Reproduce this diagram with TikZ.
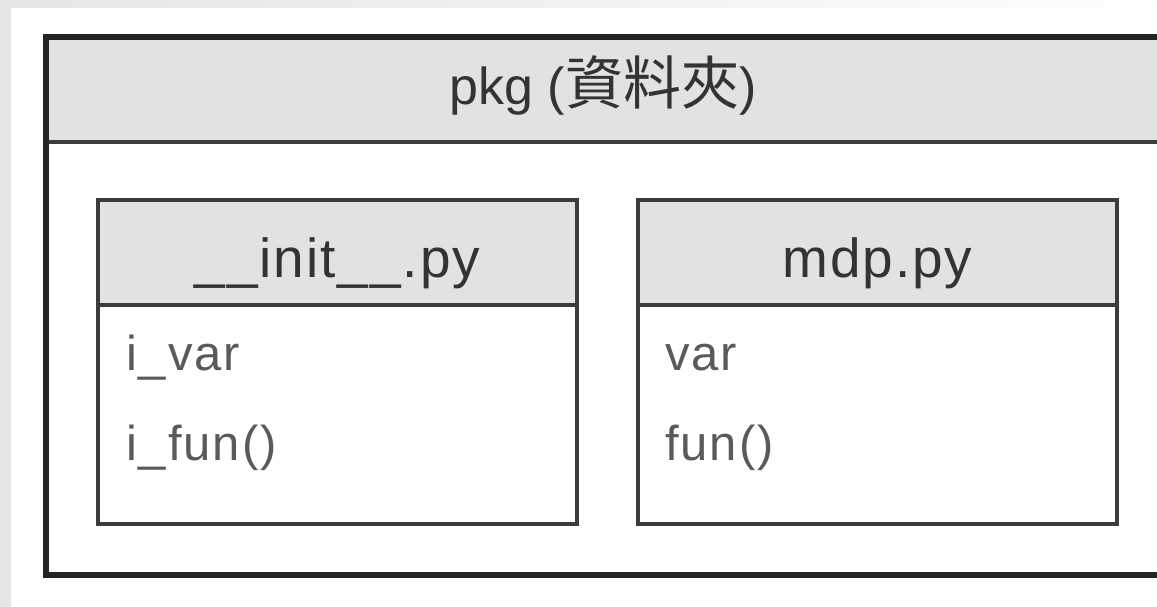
\documentclass[tikz,border=0pt]{standalone}
\usepackage{fontspec}
\setmainfont{Liberation Sans}
\newfontfamily\cjkfont{Noto Sans CJK TC}
\definecolor{bgray}{HTML}{E5E5E5}
\definecolor{hdr}{HTML}{E1E2E4}
\definecolor{edge}{HTML}{262324}
\definecolor{inedge}{HTML}{3C3C3C}
\definecolor{txt}{HTML}{333333}
\definecolor{bodytxt}{HTML}{5A5A5A}
\tikzset{
  titletext/.style={anchor=base, inner sep=0pt, text=txt, font=\fontsize{52}{62}\selectfont},
  headtext/.style={anchor=base, inner sep=0pt, text=txt, font=\fontsize{55}{66}\selectfont\addfontfeatures{LetterSpace=3.5}},
  bodytext/.style={anchor=base west, inner sep=0pt, text=bodytxt, font=\fontsize{49}{58}\selectfont\addfontfeatures{LetterSpace=4}},
  outerline/.style={draw=edge, line width=6pt},
  innerline/.style={draw=inedge, line width=4.5pt},
  divline/.style={draw=inedge, line width=3.5pt},
}
\begin{document}
\begin{tikzpicture}[x=1pt, y=-1pt]
\useasboundingbox (0,0) rectangle (1157,607);
\clip (0,0) rectangle (1157,607);
% page background
\fill[bgray] (0,0) rectangle (1157,607);
\shade[left color=bgray, right color=white!95!bgray] (0,0) rectangle (1157,8);
\fill[white] (11,8) rectangle (1157,607);
% outer package box
\fill[hdr] (46,37) rectangle (1160,142);
\draw[divline] (46,142) -- (1160,142);
\draw[outerline] (46,37) rectangle (1160,575);
\node[titletext] (pkg) at (603,105) {pkg ({\cjkfont\fontsize{58}{66}\selectfont 資料夾})};
% __init__.py box
\fill[hdr] (98,200) rectangle (577,305);
\draw[divline] (98,305) -- (577,305);
\draw[innerline] (98,200) rectangle (577,524);
\node[headtext] (init) at (337.5,277) {\_\_init\_\_.py};
\node[bodytext] (ivar) at (126,370) {i\_var};
\node[bodytext] (ifun) at (126,460) {i\_fun()};
% mdp.py box
\fill[hdr] (638,200) rectangle (1117,305);
\draw[divline] (638,305) -- (1117,305);
\draw[innerline] (638,200) rectangle (1117,524);
\node[headtext] (mdp) at (877.5,277) {mdp.py};
\node[bodytext] (var) at (665,370) {var};
\node[bodytext] (fun) at (665,460) {fun()};
\end{tikzpicture}
\end{document}
